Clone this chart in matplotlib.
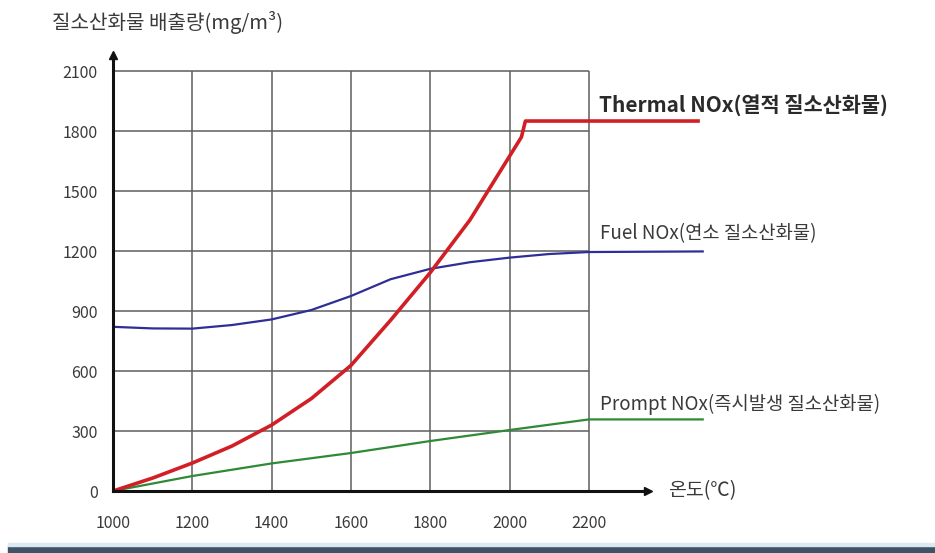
import numpy as np
import matplotlib
matplotlib.use('Agg')
import matplotlib.pyplot as plt
from matplotlib.patches import Rectangle

plt.rcParams['font.family'] = ['Noto Sans CJK KR', 'DejaVu Sans']

# values (temperature in C, NOx in mg/m3)
temp_thermal = [1000, 1100, 1200, 1300, 1400, 1500, 1600, 1700, 1800, 1900, 2000, 2030, 2040, 2480]
nox_thermal = [0, 65, 140, 225, 330, 462, 628, 854, 1092, 1355, 1674, 1770, 1850, 1850]

temp_fuel = [1000, 1100, 1200, 1300, 1400, 1500, 1600, 1700, 1800, 1900, 2000, 2100, 2200, 2490]
nox_fuel = [821, 813, 812, 830, 858, 905, 975, 1059, 1111, 1144, 1167, 1185, 1195, 1198]

temp_prompt = [1000, 1200, 1400, 1600, 1800, 2000, 2200, 2490]
nox_prompt = [0, 75, 138, 190, 250, 305, 358, 358]

xticks = [1000, 1200, 1400, 1600, 1800, 2000, 2200]
yticks = [0, 300, 600, 900, 1200, 1500, 1800, 2100]

title = '질소산화물 배출량(mg/m³)'
xlabel = '온도(℃)'
lbl_thermal = 'Thermal NOx(열적 질소산화물)'
lbl_fuel = 'Fuel NOx(연소 질소산화물)'
lbl_prompt = 'Prompt NOx(즉시발생 질소산화물)'

txt = '#3a3a3a'

fig = plt.figure(figsize=(9.35, 5.53), dpi=100)
ax = fig.add_axes([0.0997, 0.0759, 0.6997, 0.868])
ax.set_xlim(950, 2600)
ax.set_ylim(-100, 2300)

# grid only inside the 1000-2200 / 0-2100 box
ax.hlines(yticks[1:], 1000, 2200, color='#5e5e5e', lw=1.1, zorder=1)
ax.vlines(xticks[1:], 0, 2100, color='#5e5e5e', lw=1.1, zorder=1)

# curves
ax.plot(temp_fuel, nox_fuel, color='#2e2e96', lw=1.6, zorder=3, solid_capstyle='butt')
ax.plot(temp_prompt, nox_prompt, color='#2f8a36', lw=1.6, zorder=3, solid_capstyle='butt')
ax.plot(temp_thermal, nox_thermal, color='#d21f26', lw=2.6, zorder=4,
        solid_capstyle='butt', solid_joinstyle='round')

# axes as arrows through the origin
for s in ['top', 'right']:
    ax.spines[s].set_visible(False)
ax.spines['left'].set_position(('data', 1000))
ax.spines['bottom'].set_position(('data', 0))
ax.spines['left'].set_bounds(0, 2180)
ax.spines['bottom'].set_bounds(1000, 2350)
for s in ['left', 'bottom']:
    ax.spines[s].set_linewidth(2.2)
    ax.spines[s].set_color('#111111')
    ax.spines[s].set_zorder(5)
ax.plot(1000, 2180, marker='^', ms=6, color='#111111', clip_on=False, zorder=6)
ax.plot(2350, 0, marker='>', ms=6, color='#111111', clip_on=False, zorder=6)

ax.set_xticks(xticks)
ax.set_yticks(yticks)
ax.tick_params(axis='both', length=0, labelsize=11.5, labelcolor=txt)
ax.tick_params(axis='y', pad=11)
ax.tick_params(axis='x', pad=17)

ax.text(2400, 0, xlabel, fontsize=14, color=txt, va='center', ha='left')
fig.text(52 / 935, 1 - 22 / 553, title, fontsize=14.5, color=txt, va='center', ha='left')

ax.text(2225, 1925, lbl_thermal, fontsize=15, fontweight='bold', color='#2a2a2a',
        va='center', ha='left')
ax.text(2228, 1285, lbl_fuel, fontsize=13.5, color=txt, va='center', ha='left')
ax.text(2228, 435, lbl_prompt, fontsize=13.5, color=txt, va='center', ha='left')

# dark strip at the foot of the picture
fig.patches.append(Rectangle((8 / 935, 0), 1, 7 / 553, transform=fig.transFigure,
                             color='#3e5466', zorder=0))
fig.patches.append(Rectangle((8 / 935, 7 / 553), 1, 3 / 553, transform=fig.transFigure,
                             color='#dbe9f1', zorder=0))

fig.savefig('out.png', dpi=100)
